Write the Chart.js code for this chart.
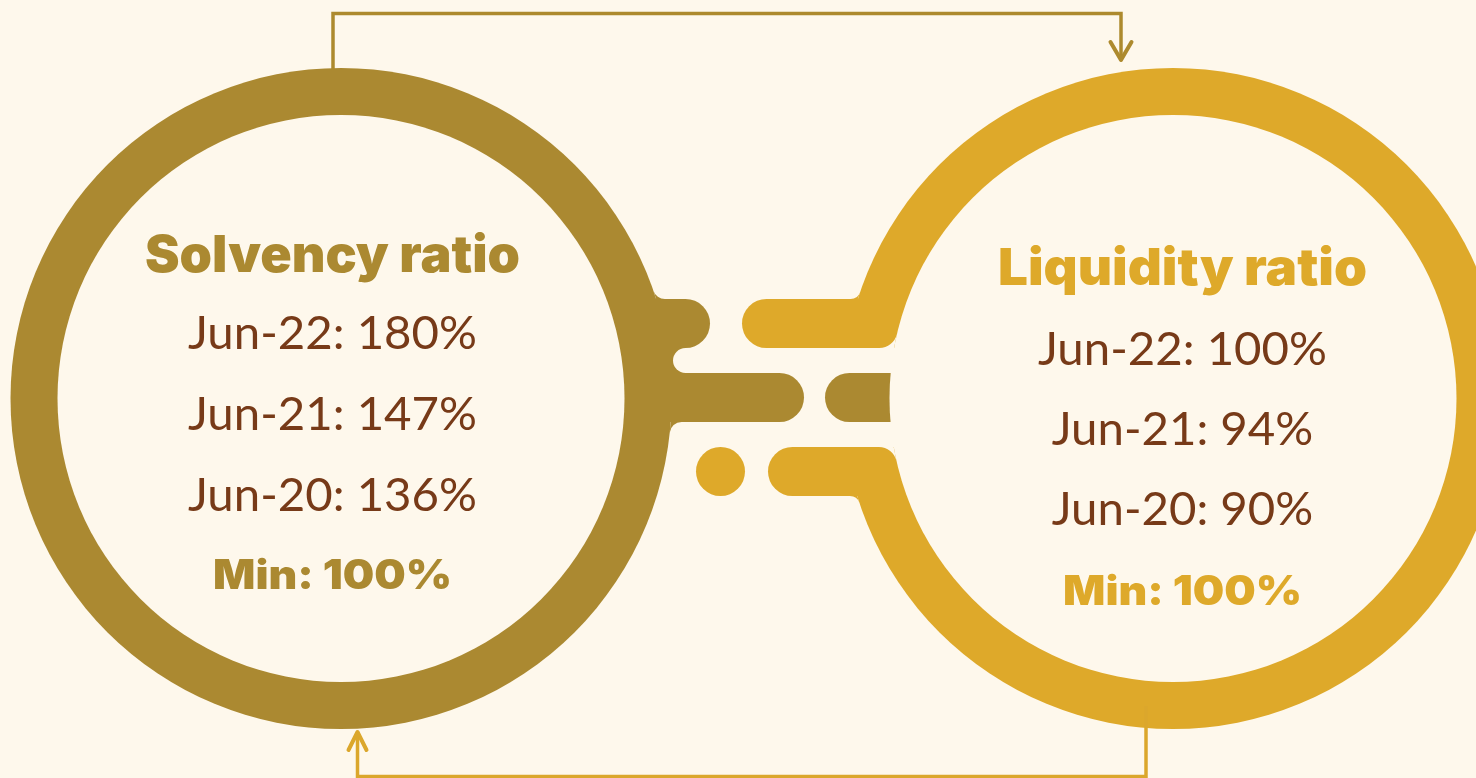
<!DOCTYPE html>
<html>
<head>
<meta charset="utf-8">
<script src="https://cdn.jsdelivr.net/npm/chart.js@4.4.0/dist/chart.umd.min.js"></script>
<style>
  html, body { margin: 0; padding: 0; background: #fef8ec; overflow: hidden; }
  canvas { display: block; }
</style>
</head>
<body>
<canvas id="myChart" width="1476" height="778"></canvas>
<script>
// DATA
var titles = ["Solvency ratio", "Liquidity ratio"];
var periods = ["Jun-22", "Jun-21", "Jun-20"];
var solvency = [180, 147, 136];
var liquidity = [100, 94, 90];
var minimums = [100, 100];

// colours
var BG = "#fef8ec";
var DARK = "#ab8931";
var GOLD = "#dea92a";
var BROWN = "#773a18";

// layout, in the same units as the hidden x/y scales (0..1476, 0..778)
var leftRing = { cx: 341, cy: 398.5, R: 330.5, r: 283.5 };
var rightRing = { cx: 1173, cy: 398.5, R: 330.5, r: 283.5 };

function circle(ctx, x, y, rad, color) {
  ctx.fillStyle = color;
  ctx.beginPath();
  ctx.arc(x, y, rad, 0, Math.PI * 2);
  ctx.fill();
}

// horizontal bar with optional round ends
function pill(ctx, x1, x2, yc, h, roundL, roundR, color) {
  var k = h / 2;
  ctx.fillStyle = color;
  ctx.beginPath();
  if (roundL) {
    ctx.arc(x1 + k, yc, k, Math.PI / 2, Math.PI * 1.5);
  } else {
    ctx.moveTo(x1, yc + k);
    ctx.lineTo(x1, yc - k);
  }
  if (roundR) {
    ctx.arc(x2 - k, yc, k, -Math.PI / 2, Math.PI / 2);
  } else {
    ctx.lineTo(x2, yc - k);
    ctx.lineTo(x2, yc + k);
  }
  ctx.closePath();
  ctx.fill();
}

// round off the corner where a horizontal edge meets a circle
function fillet(ctx, ring, rad, lineY, f, side, above, color) {
  var fcy = above ? lineY - f : lineY + f;
  var dy = fcy - ring.cy;
  var fcx = ring.cx + side * Math.sqrt((rad + f) * (rad + f) - dy * dy);
  var t2x = ring.cx + (fcx - ring.cx) * rad / (rad + f);
  var t2y = ring.cy + (fcy - ring.cy) * rad / (rad + f);
  var px = ring.cx + side * Math.sqrt(rad * rad - (lineY - ring.cy) * (lineY - ring.cy));
  var a1 = Math.atan2(lineY - fcy, 0);
  var a2 = Math.atan2(t2y - fcy, t2x - fcx);
  var diff = a2 - a1;
  while (diff > Math.PI) diff -= Math.PI * 2;
  while (diff < -Math.PI) diff += Math.PI * 2;
  ctx.fillStyle = color;
  ctx.beginPath();
  ctx.moveTo(px, lineY);
  ctx.lineTo(fcx, lineY);
  ctx.arc(fcx, fcy, f, a1, a2, diff < 0);
  ctx.closePath();
  ctx.fill();
}

// heavy text at a given size, stretched sideways to a target width
function wideText(ctx, text, font, cx, y, target) {
  ctx.font = font;
  var w = ctx.measureText(text).width;
  ctx.save();
  ctx.translate(cx, y);
  ctx.scale(target / w, 1);
  ctx.textAlign = "center";
  ctx.fillText(text, 0, 0);
  ctx.restore();
}

function drawBlock(ctx, cx, title, lines, minText, accent, ys, widths) {
  var boldFam = "Inter, 'Liberation Sans', sans-serif";
  var bodyFam = "Lato, 'Open Sans', sans-serif";
  ctx.textBaseline = "alphabetic";

  ctx.fillStyle = accent;
  wideText(ctx, title, "900 51px " + boldFam, cx, ys[0], widths[0]);

  ctx.font = "400 50px " + bodyFam;
  var bs = 50 * 289 / ctx.measureText("Jun-22: 180%").width;
  ctx.font = "400 " + bs + "px " + bodyFam;
  ctx.fillStyle = BROWN;
  ctx.textAlign = "center";
  for (var i = 0; i < lines.length; i++) {
    ctx.fillText(lines[i], cx, ys[i + 1]);
  }

  ctx.fillStyle = accent;
  wideText(ctx, minText, "900 41px " + boldFam, cx, ys[lines.length + 1], widths[1]);
}

var infographic = {
  id: "infographic",
  beforeDraw: function (chart) {
    var ctx = chart.ctx;
    var xs = chart.scales.x;
    var ys = chart.scales.y;
    var ox = xs.getPixelForValue(0);
    var oy = ys.getPixelForValue(0);
    var kx = (xs.getPixelForValue(1476) - ox) / 1476;
    var ky = (ys.getPixelForValue(778) - oy) / 778;

    ctx.save();
    ctx.translate(ox, oy);
    ctx.scale(kx, ky);

    ctx.fillStyle = BG;
    ctx.fillRect(0, 0, 1476, 778);

    // left ring + its connectors
    var L = leftRing;
    circle(ctx, L.cx, L.cy, L.R, DARK);
    pill(ctx, 620, 710, 323.5, 49, false, true, DARK);
    pill(ctx, 620, 804, 397.5, 49, false, true, DARK);
    ctx.fillStyle = DARK;
    ctx.fillRect(650, 347, 36, 27);
    pill(ctx, 673, 740, 360.5, 25, true, false, BG);
    fillet(ctx, L, L.R, 299, 12, 1, true, DARK);
    fillet(ctx, L, L.R, 422, 12, 1, false, DARK);
    circle(ctx, L.cx, L.cy, L.r, BG);

    // right ring + its connectors
    var Rr = rightRing;
    circle(ctx, Rr.cx, Rr.cy, Rr.R, GOLD);
    ctx.fillStyle = BG;
    ctx.fillRect(830, 348, 80, 99);
    pill(ctx, 742, 930, 323.5, 49, true, false, GOLD);
    pill(ctx, 768, 930, 471.5, 49, true, false, GOLD);
    pill(ctx, 825, 930, 397.5, 49, true, false, DARK);
    circle(ctx, Rr.cx, Rr.cy, Rr.r, BG);
    fillet(ctx, Rr, Rr.R, 299, 10, -1, true, GOLD);
    fillet(ctx, Rr, Rr.R, 496, 10, -1, false, GOLD);
    fillet(ctx, Rr, Rr.r, 348, 18, -1, true, BG);
    fillet(ctx, Rr, Rr.r, 447, 18, -1, false, BG);
    circle(ctx, 720.5, 471.5, 24.5, GOLD);

    // arrows
    ctx.lineJoin = "miter";
    ctx.lineCap = "butt";
    ctx.lineWidth = 3.5;
    ctx.strokeStyle = "#ad8a2e";
    ctx.beginPath();
    ctx.moveTo(333, 70);
    ctx.lineTo(333, 13.5);
    ctx.lineTo(1121, 13.5);
    ctx.lineTo(1121, 58);
    ctx.stroke();
    ctx.lineWidth = 4;
    ctx.lineCap = "round";
    ctx.lineJoin = "round";
    ctx.beginPath();
    ctx.moveTo(1110.5, 42);
    ctx.lineTo(1121, 60);
    ctx.lineTo(1131.5, 42);
    ctx.stroke();

    ctx.lineJoin = "miter";
    ctx.lineCap = "butt";
    ctx.lineWidth = 3.5;
    ctx.strokeStyle = "#dba72c";
    ctx.beginPath();
    ctx.moveTo(1146, 706);
    ctx.lineTo(1146, 776.5);
    ctx.lineTo(357.5, 776.5);
    ctx.lineTo(357.5, 734);
    ctx.stroke();
    ctx.lineWidth = 4;
    ctx.lineCap = "round";
    ctx.lineJoin = "round";
    ctx.beginPath();
    ctx.moveTo(348.5, 750);
    ctx.lineTo(357.5, 732);
    ctx.lineTo(366.5, 750);
    ctx.stroke();

    // text
    var solLines = periods.map(function (p, i) { return p + ": " + solvency[i] + "%"; });
    var liqLines = periods.map(function (p, i) { return p + ": " + liquidity[i] + "%"; });
    drawBlock(ctx, 332.5, titles[0], solLines, "Min: " + minimums[0] + "%", DARK,
      [272, 349, 430, 511, 589], [375, 239]);
    drawBlock(ctx, 1182.5, titles[1], liqLines, "Min: " + minimums[1] + "%", GOLD,
      [285, 365, 445, 525, 605], [369, 239]);

    ctx.restore();
  }
};

var config = {
  type: "scatter",
  data: { datasets: [{ data: [], pointRadius: 0 }] },
  options: {
    responsive: false,
    animation: false,
    events: [],
    layout: { padding: 0 },
    plugins: { legend: { display: false }, tooltip: { enabled: false } },
    scales: {
      x: { type: "linear", min: 0, max: 1476, display: false },
      y: { type: "linear", min: 0, max: 778, reverse: true, display: false }
    }
  },
  plugins: [infographic]
};

var myChart = new Chart(document.getElementById("myChart"), config);
</script>
</body>
</html>
